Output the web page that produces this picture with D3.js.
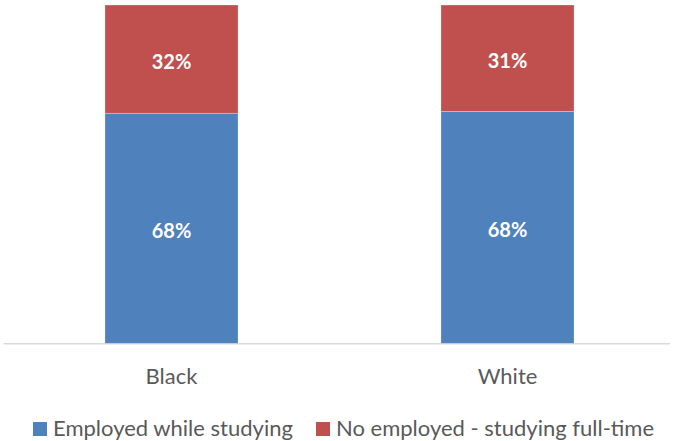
<!DOCTYPE html>
<html>
<head>
<meta charset="utf-8">
<script src="https://cdn.jsdelivr.net/npm/d3@7"></script>
<style>
  html, body { margin: 0; padding: 0; background: #fff; }
  svg { display: block; }
  text { font-family: Lato, "Open Sans", sans-serif; }
</style>
</head>
<body>
<svg id="chart" width="673" height="441"></svg>
<script>
const categories = ["Black", "White"];
const seriesNames = ["Employed while studying", "No employed - studying full-time"];
const employed = [68.0, 68.4];
const notEmployed = [32.0, 31.4];
const seriesColors = ["#4F81BD", "#C0504D"];

(function () {
const rows = categories.map((c, i) => ({ cat: c, s0: employed[i], s1: notEmployed[i] }));
const keys = ["s0", "s1"];
const stacked = d3.stack().keys(keys).offset(d3.stackOffsetExpand)(rows);

const svg = d3.select("#chart");
const baseY = 343.3, topY = 5;

const x = d3.scaleBand().domain(categories).range([3.5, 675.5]).paddingInner(0.604).paddingOuter(0.302);
const y = d3.scaleLinear().domain([0, 1]).range([baseY, topY]);
const fmt = v => d3.format(".0f")(v) + "%";

// axis line
svg.append("line")
  .attr("x1", 3.5).attr("x2", 670).attr("y1", baseY + 0.5).attr("y2", baseY + 0.5)
  .attr("stroke", "#D9D9D9").attr("stroke-width", 1.5);

const layers = svg.append("g").selectAll("g").data(stacked).join("g")
  .attr("fill", (d, i) => seriesColors[i]);

layers.selectAll("rect").data(d => d).join("rect")
  .attr("x", d => x(d.data.cat))
  .attr("width", x.bandwidth())
  .attr("y", d => y(d[1]))
  .attr("height", d => y(d[0]) - y(d[1]))
  .attr("stroke", "rgba(255,255,255,0.35)")
  .attr("stroke-width", 0.75);

layers.selectAll("text").data(d => d.map(p => ({ p, key: d.key }))).join("text")
  .attr("x", d => x(d.p.data.cat) + x.bandwidth() / 2)
  .attr("y", d => (y(d.p[0]) + y(d.p[1])) / 2 + 2)
  .attr("text-anchor", "middle")
  .attr("dominant-baseline", "central")
  .attr("fill", "#fff")
  .attr("font-weight", "bold")
  .attr("font-size", 20)
  .text(d => fmt(d.p.data[d.key]));

// category labels
svg.append("g").selectAll("text").data(categories).join("text")
  .attr("x", d => x(d) + x.bandwidth() / 2)
  .attr("y", 375.5)
  .attr("text-anchor", "middle")
  .attr("dominant-baseline", "central")
  .attr("fill", "#595959")
  .attr("font-size", 22)
  .text(d => d);

// legend
const legendX = [33, 316];
const lg = svg.append("g").selectAll("g").data(seriesNames).join("g")
  .attr("transform", (d, i) => `translate(${legendX[i]},429)`);
lg.append("rect").attr("x", 0).attr("y", -7).attr("width", 14).attr("height", 14)
  .attr("fill", (d, i) => seriesColors[i]);
lg.append("text").attr("x", 20).attr("y", -1.4)
  .attr("dominant-baseline", "central")
  .attr("fill", "#595959")
  .attr("font-size", 22)
  .text(d => d);
})();
</script>
</body>
</html>
